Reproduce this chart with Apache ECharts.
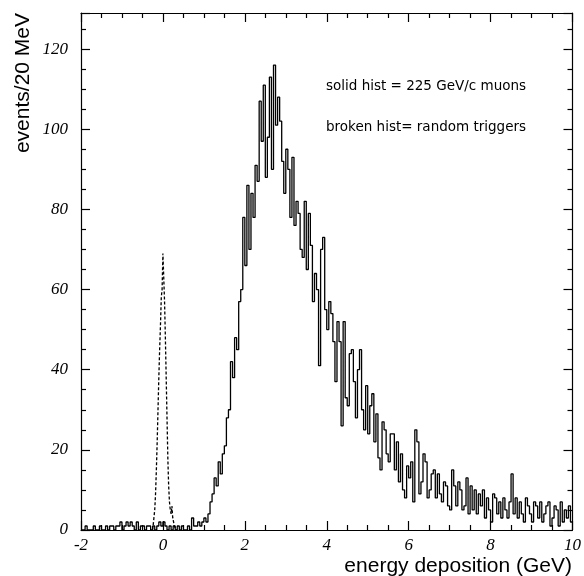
<!DOCTYPE html>
<html>
<head>
<meta charset="utf-8">
<script src="https://cdn.jsdelivr.net/npm/echarts@6/dist/echarts.min.js"></script>
<style>
html,body{margin:0;padding:0;background:#fff;}
#chart{width:584px;height:576px;}
</style>
</head>
<body>
<div id="chart"></div>
<script>
// ---- data ----
const binWidth = 0.05;            // GeV per drawn bin
const solidStart = -2.0;          // left edge of first solid bin
const solidCounts = [
  // -2.00 .. 0.95
  0,0,1,0,0,0,1,0,0,1, 0,0,1,0,1,1,0,1,1,2, 0,1,2,1,2,1,0,2,0,1,
  1,0,1,1,0,1,0,1,2,1, 2,1,0,1,0,1,0,1,0,1, 0,0,1,0,3,1,1,2,1,2,
  // 1.00 .. 9.95
  3,2,4,7,9,13,11,17,14,19,
  21,28,30,42,38,48,45,57,60,78,
  66,86,70,84,78,91,87,107,97,111,
  88,98,113,90,116,101,108,102,92,84,
  95,90,78,93,76,82,79,70,68,82,
  65,79,71,57,64,60,41,70,73,55,
  50,57,54,47,37,52,47,26,52,33,
  31,44,45,37,28,40,45,30,25,36,
  24,31,34,22,29,18,15,27,25,19,
  17,24,24,15,22,12,19,10,8,16,
  13,17,7,25,22,9,12,19,17,8,
  10,14,15,8,14,9,7,12,11,6,
  5,15,11,6,12,10,5,6,13,4,
  11,5,10,4,9,6,10,3,8,5,
  2,9,8,4,7,3,8,5,3,7,
  14,4,8,3,7,4,2,8,6,4,
  2,7,6,3,7,2,4,6,7,1,
  3,6,5,1,7,2,5,3,6,2
];
const brokenBinWidth = 0.02;
const brokenStart = -0.26;
const brokenCounts = [
  0,1,3,5,9,15,22,30,38,45,51,58,60,69,63,57,48,38,28,18,11,7,5,4,6,3,2,1,1,0
];
const xTicks = [-2, 0, 2, 4, 6, 8, 10];
const yTicks = [0, 20, 40, 60, 80, 100, 120];
const xTitle = 'energy deposition (GeV)';
const yTitle = 'events/20 MeV';
const notes = ['solid hist = 225 GeV/c muons', 'broken hist= random triggers'];

// ---- build step-histogram point lists ----
function histPoints(start, w, counts) {
  const pts = counts.map((c, i) => [+(start + i * w).toFixed(3), c]);
  pts.push([+(start + counts.length * w).toFixed(3), counts[counts.length - 1]]);
  return pts;
}

const X_MIN = xTicks[0], X_MAX = xTicks[xTicks.length - 1];
const X_STEP = xTicks[1] - xTicks[0];
const Y_STEP = yTicks[1] - yTicks[0];
const Y_MAX = 129;
const tickFont = {fontFamily: 'Liberation Serif', fontStyle: 'italic', fontSize: 17, color: '#000'};

function common(showLabel, margin) {
  return {
    axisLine: {show: true, onZero: false, lineStyle: {color: '#000', width: 1.2}},
    axisTick: {show: true, inside: true, length: 9, lineStyle: {color: '#000', width: 1.2}},
    minorTick: {show: true, splitNumber: 4, length: 5, lineStyle: {color: '#000', width: 1.2}},
    splitLine: {show: true, lineStyle: {opacity: 0}},
    minorSplitLine: {show: false},
    axisLabel: Object.assign({show: showLabel, margin, showMaxLabel: showLabel ? undefined : false}, tickFont)
  };
}
function xAx(pos, showLabel) {
  return Object.assign({type: 'value', position: pos, min: X_MIN, max: X_MAX, interval: X_STEP},
    common(showLabel, 7));
}
function yAx(pos, showLabel) {
  const a = Object.assign({type: 'value', position: pos, min: 0, max: Y_MAX, interval: Y_STEP},
    common(showLabel, 13));
  a.axisLabel.showMaxLabel = false;
  return a;
}

const chart = echarts.init(document.getElementById('chart'), null, {renderer: 'canvas'});
chart.setOption({
  animation: false,
  grid: {left: 81, right: 11, top: 13, bottom: 46},
  xAxis: [xAx('bottom', true), xAx('top', false)],
  yAxis: [yAx('left', true), yAx('right', false)],
  series: [
    {
      name: 'solid hist', type: 'line', xAxisIndex: 0, yAxisIndex: 0,
      step: 'end', showSymbol: false,
      lineStyle: {color: '#000', width: 1.3},
      data: histPoints(solidStart, binWidth, solidCounts)
    },
    {
      name: 'broken hist', type: 'line', xAxisIndex: 0, yAxisIndex: 0,
      step: 'end', showSymbol: false,
      lineStyle: {color: '#000', width: 1.3, type: [3, 2]},
      data: histPoints(brokenStart, brokenBinWidth, brokenCounts)
    }
  ],
  graphic: [
    {type: 'text', x: 23, y: 13, rotation: Math.PI / 2,
     style: {text: yTitle, fill: '#000', font: '21px "Liberation Sans", Arial, sans-serif',
             textAlign: 'right', textVerticalAlign: 'middle'}},
    {type: 'text', x: 572, y: 566,
     style: {text: xTitle, fill: '#000', font: '21px "Liberation Sans", Arial, sans-serif',
             textAlign: 'right', textVerticalAlign: 'middle'}},
    {type: 'text', x: 326, y: 86,
     style: {text: notes[0], fill: '#000', font: '13.5px "DejaVu Sans", sans-serif',
             textAlign: 'left', textVerticalAlign: 'middle'}},
    {type: 'text', x: 326, y: 127,
     style: {text: notes[1], fill: '#000', font: '13.5px "DejaVu Sans", sans-serif',
             textAlign: 'left', textVerticalAlign: 'middle'}}
  ]
});
</script>
</body>
</html>
